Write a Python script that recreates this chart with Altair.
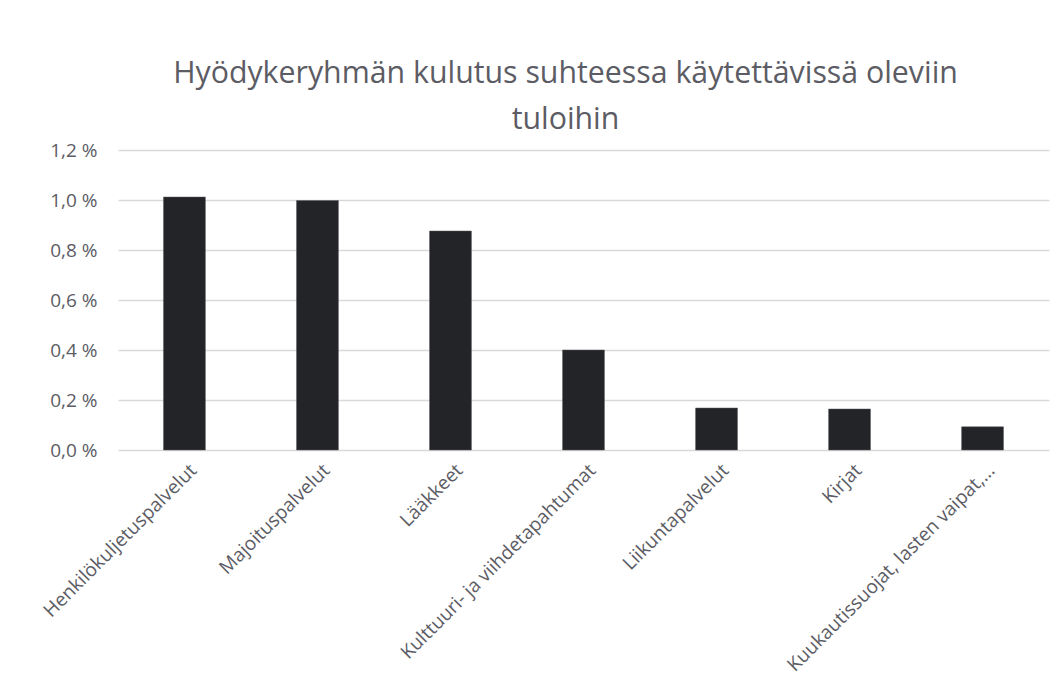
import altair as alt
import pandas as pd

categories = [
    "Henkilökuljetuspalvelut",
    "Majoituspalvelut",
    "Lääkkeet",
    "Kulttuuri- ja viihdetapahtumat",
    "Liikuntapalvelut",
    "Kirjat",
    "Kuukautissuojat, lasten vaipat,...",
]
values_pct = [1.012, 0.998, 0.876, 0.400, 0.168, 0.164, 0.093]
y_ticks = [0.0, 0.2, 0.4, 0.6, 0.8, 1.0, 1.2]

df = pd.DataFrame({"kategoria": categories, "osuus": values_pct})

FONT = "Open Sans"
GREY = "#5c5c64"

chart = (
    alt.Chart(df)
    .mark_bar(color="#232427", stroke="#5a5a5e", strokeWidth=0.5)
    .encode(
        x=alt.X(
            "kategoria:N",
            sort=categories,
            title=None,
            scale=alt.Scale(paddingInner=0.685, paddingOuter=0.342),
            axis=alt.Axis(
                labelAngle=-45,
                labelAlign="right",
                labelBaseline="middle",
                labelFontSize=19,
                labelColor=GREY,
                labelFont=FONT,
                labelPadding=17,
                labelOffset=9,
                ticks=False,
                domain=False,
                grid=False,
                labelLimit=400,
            ),
        ),
        y=alt.Y(
            "osuus:Q",
            title=None,
            scale=alt.Scale(domain=[0, 1.2], nice=False),
            axis=alt.Axis(
                values=y_ticks,
                labelExpr="replace(format(datum.value, '.1f'), '.', ',') + ' %'",
                labelFontSize=19,
                labelColor=GREY,
                labelFont=FONT,
                labelPadding=21,
                ticks=False,
                domain=False,
                grid=True,
                gridColor="#d9d9d9",
                gridWidth=1.3,
            ),
        ),
    )
    .properties(
        width=931,
        height=300,
        autosize=alt.AutoSizeParams(type="none"),
        padding={"left": 110, "top": 142, "right": 5, "bottom": 240},
        title=alt.TitleParams(
            ["Hyödykeryhmän kulutus suhteessa käytettävissä oleviin", "tuloihin"],
            font=FONT,
            fontSize=30.3,
            fontWeight="normal",
            color=GREY,
            lineHeight=46,
            offset=6,
            anchor="middle",
            dx=-18,
        ),
    )
    .configure_view(stroke=None)
)

chart.save("out.html", embed_options={"renderer": "svg", "actions": False})
